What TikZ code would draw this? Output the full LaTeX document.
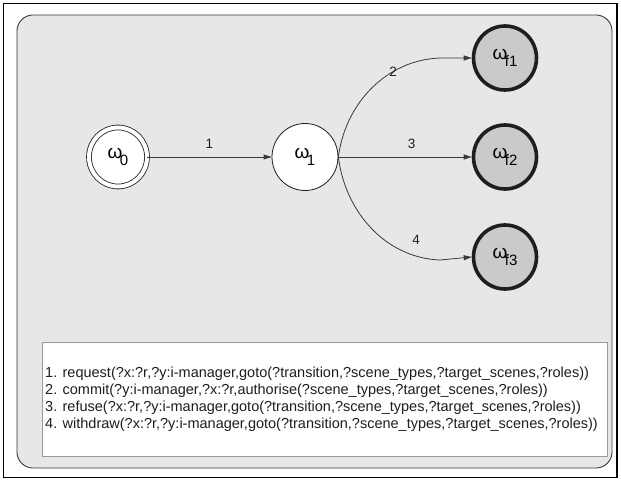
\documentclass[tikz,border=0pt]{standalone}
\usepackage{fontspec}
\setmainfont{Liberation Sans}
\usetikzlibrary{arrows.meta,shapes.geometric}

\definecolor{panelgray}{HTML}{E6E7E9}
\definecolor{finalgray}{HTML}{C9CACC}
\definecolor{inkdark}{HTML}{1E1E1E}
\definecolor{linegray}{HTML}{3A3A3A}
\definecolor{boxedge}{HTML}{9A9A9A}

% state name: omega with a large lowered index
\newcommand{\stname}[1]{{\fontsize{19}{19}\selectfont ω}\kern-2.5pt\raisebox{-6.5pt}{\fontsize{15}{15}\selectfont #1}}

\tikzset{
  state/.style={draw=inkdark, line width=0.8pt, fill=white, shape=ellipse,
    minimum width=66pt, minimum height=67pt, inner sep=0pt},
  finalstate/.style={draw=inkdark, line width=3.6pt, fill=finalgray, shape=ellipse,
    minimum width=63pt, minimum height=64pt, inner sep=0pt},
  trans/.style={draw=linegray, line width=0.8pt, -{Triangle[length=8pt,width=5pt]}},
  tlabel/.style={font=\fontsize{13.5}{13.5}\selectfont, text=inkdark, inner sep=0pt},
  legend/.style={font=\fontsize{14.5}{14.5}\selectfont, text=inkdark, inner sep=0pt, anchor=west}
}

\begin{document}
\begin{tikzpicture}[x=1pt,y=-1pt]
\useasboundingbox (0,0) rectangle (621,481);

% outer frame and grey panel
\draw[line width=1.2pt, black] (3.5,3.5) rectangle (617,477.5);
\draw[draw=linegray, line width=0.9pt, fill=panelgray, rounded corners=16pt] (17,15) rectangle (612,468);

% states
\node[state, double=white, double distance=4pt, minimum width=58pt, minimum height=59pt] (w0) at (118,157) {\stname{0}};
\node[state] (w1) at (305,157) {\stname{1}};
\node[finalstate] (f1) at (505,58) {\stname{f1}};
\node[finalstate] (f2) at (505,157) {\stname{f2}};
\node[finalstate] (f3) at (505,257) {\stname{f3}};

% transitions
\coordinate (s2) at (338,160);
\coordinate (s4) at (338,154);
\draw[trans] (w0.east) -- (w1.west) node[pos=0.5, above=8pt, tlabel] {1};
\draw[trans] (w1.east) -- (f2.west) node[pos=0.55, above=8pt, tlabel] {3};
\draw[trans] (s2) .. controls (344,104) and (386,60) .. (440,58) -- (f1.west);
\draw[trans] (s4) .. controls (344,212) and (386,258) .. (440,260) -- (f3.west);
\node[tlabel] (l2) at (393,72) {2};
\node[tlabel] (l4) at (416,240) {4};

% legend box
\draw[draw=boxedge, line width=0.8pt, fill=white] (42,342) rectangle (607,456);
\node[legend] (m1) at (45,374) {1. request(?x:?r,?y:i-manager,goto(?transition,?scene\_types,?target\_scenes,?roles))};
\node[legend] (m2) at (45,391) {2. commit(?y:i-manager,?x:?r,authorise(?scene\_types,?target\_scenes,?roles))};
\node[legend] (m3) at (45,407.5) {3. refuse(?x:?r,?y:i-manager,goto(?transition,?scene\_types,?target\_scenes,?roles))};
\node[legend] (m4) at (45,424.5) {4. withdraw(?x:?r,?y:i-manager,goto(?transition,?scene\_types,?target\_scenes,?roles))};
\end{tikzpicture}
\end{document}
